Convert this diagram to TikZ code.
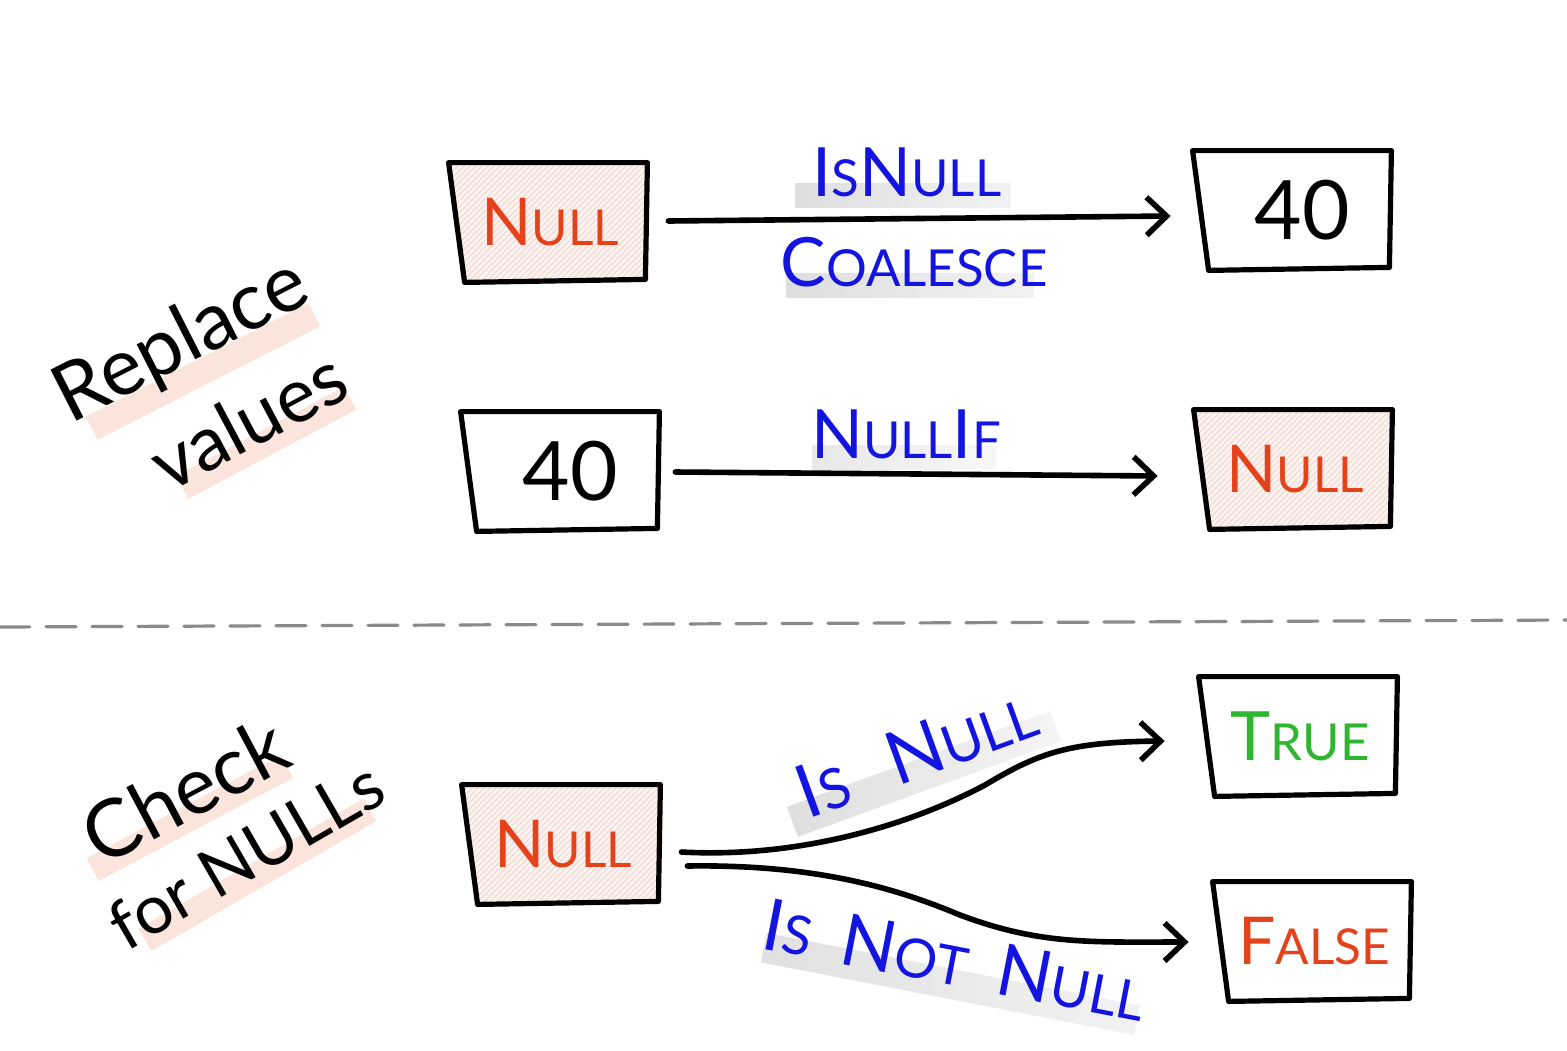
\documentclass[tikz,border=0pt]{standalone}
\usepackage{fontspec}
\setmainfont{Lato}
\usetikzlibrary{arrows.meta,patterns,backgrounds,calc}
\definecolor{nullred}{HTML}{E4421B}
\definecolor{lblue}{HTML}{1414E0}
\definecolor{tgreen}{HTML}{2FB52F}
\definecolor{hlpink}{HTML}{FBE4DC}
\definecolor{dashgray}{HTML}{8A8A8A}
\newcommand\sm[1]{\scalebox{0.75}{#1}}
\begin{document}
\begin{tikzpicture}[x=0.5pt,y=-0.5pt,
  box/.style={minimum width=95pt,minimum height=58pt,inner sep=0pt,draw=none},
  nulltxt/.style={text=nullred,font=\fontsize{33}{38}\selectfont},
  numtxt/.style={text=black,font=\fontsize{41}{46}\selectfont},
  conn/.style={line width=2.8pt,line cap=round,-{Straight Barb[length=10pt,width=19pt,line width=2.8pt]}},
  lbl/.style={text=lblue,font=\fontsize{34}{40}\selectfont,inner xsep=4pt,inner ysep=2pt},
  side/.style={text=black,font=\fontsize{40}{44}\selectfont,inner sep=0pt},
  grayband/.style={inner sep=0pt,minimum height=12pt,left color=black!13,right color=black!5},
  pinkband/.style={inner sep=0pt,minimum height=13pt,fill=hlpink},
  outline/.style={line width=2.6pt,line join=round}
]
\useasboundingbox (0,0) rectangle (1567,1050);

% boxes
\node[box,nulltxt] (b1) at (550,222) {N\sm{ULL}};
\node[box,numtxt]  (b2) at (1294,210) {\hspace{8pt}40};
\node[box,numtxt]  (b3) at (562,471) {\hspace{8pt}40};
\node[box,nulltxt] (b4) at (1295,469) {N\sm{ULL}};
\node[box,nulltxt] (b5) at (563,844) {N\sm{ULL}};
\node[box,text=tgreen,font=\fontsize{34}{40}\selectfont] (b6) at (1300,736) {T\sm{RUE}};
\node[box,nulltxt] (b7) at (1314,941) {F\sm{ALSE}};

% dashed separator
\draw[dashgray,line width=1.6pt,dash pattern=on 15pt off 8pt,line cap=round] (0,627) -- (1567,620);

% top arrows
\draw[conn] ($(b1.east)+(23,-1)$) -- ($(b2.west)+(-28,6)$);
\draw[conn] ($(b3.east)+(18,1)$) -- ($(b4.west)+(-42,7)$);

\node[lbl] (l1) at (907,172) {I\sm{S}N\sm{ULL}};
\node[lbl] (l2) at (914,262) {C\sm{OALESCE}};
\node[lbl] (l3) at (906,434) {N\sm{ULL}I\sm{F}};

% bottom curves
\draw[conn] ($(b5.east)+(23,8)$) .. controls (790,858) and (900,830) .. (985,785)
  .. controls (1040,752) and (1070,742) .. ($(b6.west)+(-40,5)$);
\draw[conn] ($(b5.east)+(29,22)$) .. controls (820,864) and (900,890) .. (960,915)
  .. controls (1040,945) and (1090,942) .. ($(b7.west)+(-30,1)$);

\node[lbl,rotate=20,font=\fontsize{37}{42}\selectfont] (l4) at (916,752) {I\sm{S}\hspace{22pt}N\sm{ULL}};
\node[lbl,rotate=-11,font=\fontsize{36}{42}\selectfont] (l5) at (955,960) {I\sm{S}\hspace{15pt}N\sm{OT}\hspace{15pt}N\sm{ULL}};

% side titles
\node[side,rotate=27] (s1) at (182,342) {Replace};
\node[side,rotate=28,font=\fontsize{38}{42}\selectfont] (s2) at (248,420) {values};
\node[side,rotate=28] (s3) at (185,790) {Check};
\node[side,rotate=30,font=\fontsize{34}{40}\selectfont] (s4) at (246,855) {for NULLs};

\begin{scope}[on background layer]
\foreach \n/\hatch in {b1/1,b2/0,b3/0,b4/1,b5/1,b6/0,b7/0}{
  \coordinate (p1) at ($(\n.north west)+(-6,-1)$);
  \coordinate (p2) at ($(\n.north east)+(2,-1)$);
  \coordinate (p3) at ($(\n.south east)+(0,-1)$);
  \coordinate (p4) at ($(\n.south west)+(10,2)$);
  \ifnum\hatch=1
    \fill[nullred!6] (p1) -- (p2) -- (p3) -- (p4) -- cycle;
    \fill[pattern=north east lines,pattern color=nullred!25] (p1) -- (p2) -- (p3) -- (p4) -- cycle;
  \fi
  \draw[outline] (p1) -- (p2) -- (p3) -- (p4) -- cycle;
}
% highlight bands
\node[grayband,minimum width=108pt] (g1) at ($(l1.center)!0.8!(l1.south)+(-4,0)$) {};
\node[grayband,minimum width=124pt] (g2) at ($(l2.center)!0.8!(l2.south)+(-4,0)$) {};
\node[grayband,minimum width=92pt,left color=black!9,right color=black!3] (g3) at ($(l3.center)!0.8!(l3.south)+(-2,0)$) {};
\node[grayband,rotate=20,minimum width=140pt,minimum height=16pt,left color=black!13,right color=black!4] (g4) at ($(l4.center)!0.75!(l4.south)$) {};
\node[grayband,rotate=-11,minimum width=190pt,minimum height=15pt,left color=black!12,right color=black!5] (g5) at ($(l5.center)!0.8!(l5.south)$) {};
\node[pinkband,rotate=27,minimum width=125pt] (h1) at ($(s1.center)!0.9!(s1.south)+(6,0)$) {};
\node[pinkband,rotate=28,minimum width=95pt] (h2) at ($(s2.center)!0.9!(s2.south)+(6,0)$) {};
\node[pinkband,rotate=28,minimum width=110pt] (h3) at ($(s3.center)!0.9!(s3.south)+(-8,4)$) {};
\node[pinkband,rotate=30,minimum width=130pt] (h4) at ($(s4.center)!0.9!(s4.south)$) {};
\end{scope}
\end{tikzpicture}
\end{document}
